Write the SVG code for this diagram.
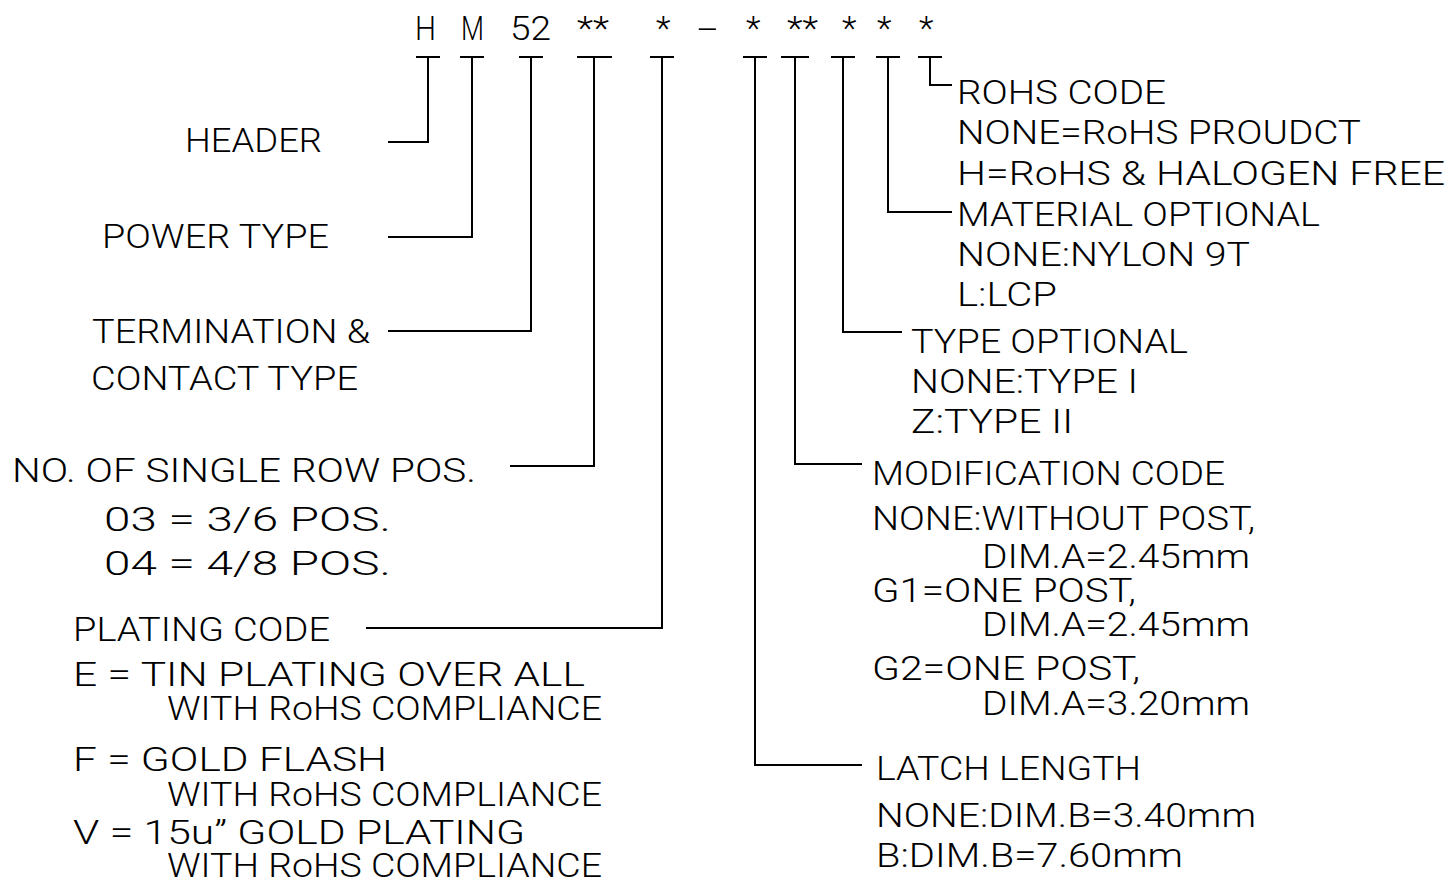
<svg xmlns="http://www.w3.org/2000/svg" width="1448" height="881" viewBox="0 0 1448 881">
<style>
text{font-family:Roboto,"Liberation Sans",sans-serif;font-weight:300;font-size:34px;fill:#000}
.c line,.c polyline{stroke:#000;stroke-width:2;fill:none}
</style>
<rect width="1448" height="881" fill="#fff"/>
<g id="code">
<text x="415" y="40" textLength="21" lengthAdjust="spacingAndGlyphs">H</text>
<text x="461" y="40" textLength="23" lengthAdjust="spacingAndGlyphs">M</text>
<text x="510" y="40" textLength="41" lengthAdjust="spacingAndGlyphs">52</text>
<text x="577" y="40" textLength="32" lengthAdjust="spacingAndGlyphs">**</text>
<text x="656" y="40">*</text>
<text x="697" y="40" textLength="21" lengthAdjust="spacingAndGlyphs">-</text>
<text x="746" y="40">*</text>
<text x="787" y="40" textLength="31" lengthAdjust="spacingAndGlyphs">**</text>
<text x="842" y="40">*</text>
<text x="877" y="40">*</text>
<text x="919" y="40">*</text>
</g>
<g class="c" id="connectors">
<line x1="416" y1="57" x2="440" y2="57"/><polyline points="428,57 428,142 388,142"/>
<line x1="460" y1="57" x2="484" y2="57"/><polyline points="472,57 472,237 388,237"/>
<line x1="519" y1="57" x2="543" y2="57"/><polyline points="531,57 531,331 388,331"/>
<line x1="577" y1="57" x2="612" y2="57"/><polyline points="594,57 594,466 510,466"/>
<line x1="650" y1="57" x2="674" y2="57"/><polyline points="662,57 662,628 366,628"/>
<line x1="743" y1="57" x2="767" y2="57"/><polyline points="755,57 755,765 862,765"/>
<line x1="781" y1="57" x2="809" y2="57"/><polyline points="795,57 795,464 862,464"/>
<line x1="831" y1="57" x2="855" y2="57"/><polyline points="843,57 843,332 902,332"/>
<line x1="876" y1="57" x2="900" y2="57"/><polyline points="888,57 888,212 952,212"/>
<line x1="918" y1="57" x2="942" y2="57"/><polyline points="930,57 930,85 952,85"/>
</g>
<g id="header"><text x="185" y="152" textLength="137" lengthAdjust="spacingAndGlyphs">HEADER</text></g>
<g id="power-type"><text x="102" y="248" textLength="227" lengthAdjust="spacingAndGlyphs">POWER TYPE</text></g>
<g id="termination">
<text x="92" y="343" textLength="278" lengthAdjust="spacingAndGlyphs">TERMINATION &amp;</text>
<text x="91" y="390" textLength="267" lengthAdjust="spacingAndGlyphs">CONTACT TYPE</text>
</g>
<g id="positions">
<text x="12" y="482" textLength="464" lengthAdjust="spacingAndGlyphs">NO. OF SINGLE ROW POS.</text>
<text x="104" y="531" textLength="287" lengthAdjust="spacingAndGlyphs">03 = 3/6 POS.</text>
<text x="104" y="575" textLength="287" lengthAdjust="spacingAndGlyphs">04 = 4/8 POS.</text>
</g>
<g id="plating">
<text x="73" y="641" textLength="257" lengthAdjust="spacingAndGlyphs">PLATING CODE</text>
<text x="73" y="686" textLength="512" lengthAdjust="spacingAndGlyphs">E = TIN PLATING OVER ALL</text>
<text x="167" y="720" textLength="435" lengthAdjust="spacingAndGlyphs">WITH RoHS COMPLIANCE</text>
<text x="73" y="771" textLength="314" lengthAdjust="spacingAndGlyphs">F = GOLD FLASH</text>
<text x="167" y="806" textLength="435" lengthAdjust="spacingAndGlyphs">WITH RoHS COMPLIANCE</text>
<text x="73" y="844" textLength="452" lengthAdjust="spacingAndGlyphs">V = 15u” GOLD PLATING</text>
<text x="167" y="877" textLength="435" lengthAdjust="spacingAndGlyphs">WITH RoHS COMPLIANCE</text>
</g>
<g id="rohs">
<text x="957" y="104" textLength="209" lengthAdjust="spacingAndGlyphs">ROHS CODE</text>
<text x="957" y="144" textLength="404" lengthAdjust="spacingAndGlyphs">NONE=RoHS PROUDCT</text>
<text x="957" y="185" textLength="488" lengthAdjust="spacingAndGlyphs">H=RoHS &amp; HALOGEN FREE</text>
</g>
<g id="material">
<text x="957" y="226" textLength="363" lengthAdjust="spacingAndGlyphs">MATERIAL OPTIONAL</text>
<text x="957" y="266" textLength="293" lengthAdjust="spacingAndGlyphs">NONE:NYLON 9T</text>
<text x="957" y="306" textLength="100" lengthAdjust="spacingAndGlyphs">L:LCP</text>
</g>
<g id="type">
<text x="911" y="353" textLength="277" lengthAdjust="spacingAndGlyphs">TYPE OPTIONAL</text>
<text x="911" y="393" textLength="227" lengthAdjust="spacingAndGlyphs">NONE:TYPE I</text>
<text x="911" y="433" textLength="162" lengthAdjust="spacingAndGlyphs">Z:TYPE II</text>
</g>
<g id="modification">
<text x="872" y="485" textLength="353" lengthAdjust="spacingAndGlyphs">MODIFICATION CODE</text>
<text x="872" y="530" textLength="383" lengthAdjust="spacingAndGlyphs">NONE:WITHOUT POST,</text>
<text x="982" y="568" textLength="268" lengthAdjust="spacingAndGlyphs">DIM.A=2.45mm</text>
<text x="872" y="602" textLength="264" lengthAdjust="spacingAndGlyphs">G1=ONE POST,</text>
<text x="982" y="636" textLength="268" lengthAdjust="spacingAndGlyphs">DIM.A=2.45mm</text>
<text x="872" y="680" textLength="268" lengthAdjust="spacingAndGlyphs">G2=ONE POST,</text>
<text x="982" y="715" textLength="268" lengthAdjust="spacingAndGlyphs">DIM.A=3.20mm</text>
</g>
<g id="latch">
<text x="876" y="780" textLength="265" lengthAdjust="spacingAndGlyphs">LATCH LENGTH</text>
<text x="876" y="827" textLength="380" lengthAdjust="spacingAndGlyphs">NONE:DIM.B=3.40mm</text>
<text x="876" y="867" textLength="307" lengthAdjust="spacingAndGlyphs">B:DIM.B=7.60mm</text>
</g>
</svg>
